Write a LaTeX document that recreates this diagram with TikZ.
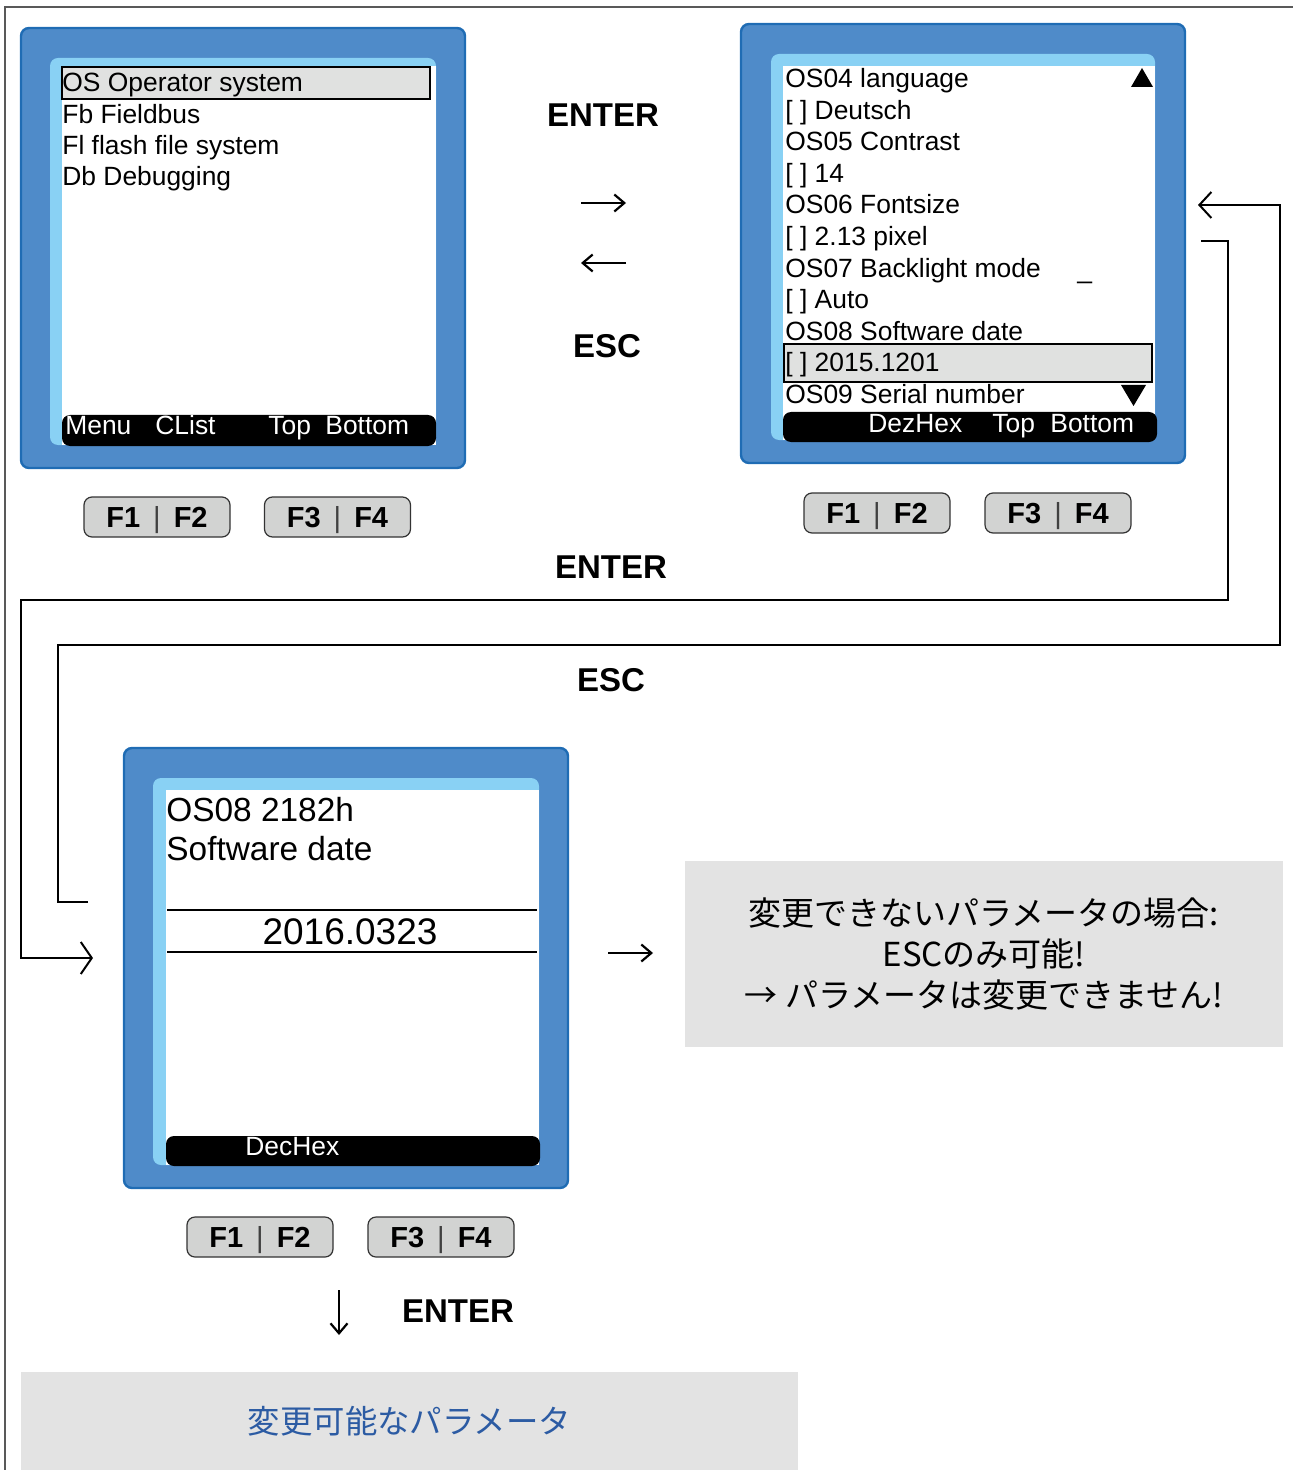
\documentclass[tikz,border=0pt]{standalone}
\usepackage{fontspec}
\setmainfont{Liberation Sans}
\newfontfamily\cjk{Noto Sans CJK JP}
\usetikzlibrary{arrows.meta}
\definecolor{scrblue}{HTML}{4F8BC9}
\definecolor{scredge}{HTML}{1F6CB4}
\definecolor{scrlight}{HTML}{89D1F4}
\definecolor{hlgray}{HTML}{E0E1E0}
\definecolor{btngray}{HTML}{D2D3D2}
\definecolor{boxgray}{HTML}{E3E3E3}
\definecolor{jpblue}{HTML}{2C5BA3}
\begin{document}
\begin{tikzpicture}[x=0.5pt,y=-0.5pt,
  pageline/.style={draw=black!65, line width=0.9pt},
  outer/.style={fill=scrblue, draw=scredge, line width=1.2pt, rounded corners=4pt, inner sep=0pt},
  light/.style={fill=scrlight, rounded corners=4pt},
  scrwhite/.style={fill=white},
  scrbar/.style={fill=black, rounded corners=4pt},
  hl/.style={fill=hlgray, draw=black, line width=1pt},
  scrtxt/.style={anchor=base west, inner sep=0pt, font=\fontsize{13.2}{15}\selectfont},
  bigtxt/.style={anchor=base west, inner sep=0pt, font=\fontsize{16.7}{19}\selectfont},
  bartxt/.style={scrtxt, text=white},
  btn/.style={draw=black!80, fill=btngray, rounded corners=4pt, line width=0.6pt,
    minimum width=73pt, minimum height=20pt, inner sep=0pt, text height=10.5pt, text depth=0pt,
    font=\bfseries\fontsize{14.5}{16}\selectfont},
  keytxt/.style={anchor=base, inner sep=0pt, font=\bfseries\fontsize{16.5}{18}\selectfont},
  conn/.style={line width=1pt},
  bigtip/.style={conn, -{Straight Barb[length=5.5pt,width=16pt]}},
  midtip/.style={conn, -{Straight Barb[length=6pt,width=13pt]}},
  smalltip/.style={line width=1.1pt, -{Straight Barb[length=5pt,width=8.5pt]}},
  graybox/.style={fill=boxgray, inner sep=0pt}
]
\useasboundingbox (0,0) rectangle (1293,1470);
% page border
\draw[pageline] (4,7) -- (1293,7);
\draw[pageline] (5,7) -- (5,1470);

% ---------- Screen A ----------
\node[outer, minimum width=222pt, minimum height=220pt] (scrA) at (243,248) {};
\fill[light] (50,58) rectangle (436,445);
\fill[scrwhite] (62,66) rectangle (436,445);
\draw[hl] (62,67) rectangle (430,99);
\fill[scrbar] (62,415) rectangle (436,446);
\node[scrtxt] (a1) at (62,92) {OS Operator system};
\node[scrtxt] (a2) at (62,123.5) {Fb Fieldbus};
\node[scrtxt] (a3) at (62,155) {Fl flash file system};
\node[scrtxt] (a4) at (62,186) {Db Debugging};
\node[bartxt] (ab1) at (65,435) {Menu};
\node[bartxt] (ab2) at (155,435) {CList};
\node[bartxt] (ab3) at (268,435) {Top};
\node[bartxt] (ab4) at (325,435) {Bottom};
\node[btn] (bA1) at (157,517) {F1\hspace{6.5pt}{\mdseries\color{black!75}|}\hspace{6.5pt}F2};
\node[btn] (bA2) at (337.5,517) {F3\hspace{6.5pt}{\mdseries\color{black!75}|}\hspace{6.5pt}F4};

% ---------- Screen B ----------
\node[outer, minimum width=222pt, minimum height=219.5pt] (scrB) at (963,243.5) {};
\fill[light] (771,54) rectangle (1155,440);
\fill[scrwhite] (783,66) rectangle (1155,440);
\draw[hl] (784,344) rectangle (1152,382);
\fill[scrbar] (783,412) rectangle (1157,442);
\node[scrtxt] (b1) at (785,87.5) {OS04 language};
\node[scrtxt] (b2) at (785,119.1) {[ ] Deutsch};
\node[scrtxt] (b3) at (785,150.7) {OS05 Contrast};
\node[scrtxt] (b4) at (785,182.3) {[ ] 14};
\node[scrtxt] (b5) at (785,213.9) {OS06 Fontsize};
\node[scrtxt] (b6) at (785,245.5) {[ ] 2.13 pixel};
\node[scrtxt] (b7) at (785,277.1) {OS07 Backlight mode};
\node[scrtxt] (b8) at (785,308.7) {[ ] Auto};
\node[scrtxt] (b9) at (785,340.3) {OS08 Software date};
\node[scrtxt] (b10) at (785,371.9) {[ ] 2015.1201};
\node[scrtxt] (b11) at (785,403.5) {OS09 Serial number};
\node[scrtxt] (bu) at (1077,279) {\_};
\fill (1131,87) -- (1153,87) -- (1142,68) -- cycle;
\fill (1121,385) -- (1146,385) -- (1133.5,406) -- cycle;
\node[bartxt] (bb1) at (868,432) {DezHex};
\node[bartxt] (bb2) at (992,432) {Top};
\node[bartxt] (bb3) at (1050,432) {Bottom};
\node[btn] (bB1) at (877,513) {F1\hspace{6.5pt}{\mdseries\color{black!75}|}\hspace{6.5pt}F2};
\node[btn] (bB2) at (1058,513) {F3\hspace{6.5pt}{\mdseries\color{black!75}|}\hspace{6.5pt}F4};

% ---------- Screen C ----------
\node[outer, minimum width=222pt, minimum height=220pt] (scrC) at (346,968) {};
\fill[light] (153,778) rectangle (539,1165);
\fill[scrwhite] (166,790) rectangle (539,1165);
\fill[scrbar] (166,1136) rectangle (540,1166);
\draw[conn] (167,910) -- (537,910);
\draw[conn] (167,952) -- (537,952);
\node[bigtxt] (c1) at (166,821) {OS08 2182h};
\node[bigtxt] (c2) at (166,860) {Software date};
\node[anchor=base, inner sep=0pt, font=\fontsize{18.5}{20}\selectfont] (c3) at (350,944) {2016.0323};
\node[bartxt] (cb1) at (245,1155) {DecHex};
\node[btn] (bC1) at (260,1237) {F1\hspace{6.5pt}{\mdseries\color{black!75}|}\hspace{6.5pt}F2};
\node[btn] (bC2) at (441,1237) {F3\hspace{6.5pt}{\mdseries\color{black!75}|}\hspace{6.5pt}F4};

% ---------- key labels ----------
\node[keytxt] (k1) at (603,127) {ENTER};
\node[keytxt] (k2) at (607,358) {ESC};
\node[keytxt] (k3) at (611,578) {ENTER};
\node[keytxt] (k4) at (611,691) {ESC};
\node[keytxt] (k5) at (458,1322) {ENTER};

% ---------- small arrows ----------
\coordinate (m1a) at (581,203); \coordinate (m1b) at (626,203);
\coordinate (m2a) at (626,263); \coordinate (m2b) at (581,263);
\coordinate (m3a) at (608,953); \coordinate (m3b) at (653,953);
\coordinate (m4a) at (339,1290); \coordinate (m4b) at (339,1335);
\draw[smalltip] (m1a) -- (m1b);
\draw[smalltip] (m2a) -- (m2b);
\draw[smalltip] (m3a) -- (m3b);
\draw[smalltip] (m4a) -- (m4b);

% ---------- long connectors ----------
\coordinate (enS) at (1201,241);
\coordinate (enE) at (93,958);
\draw[bigtip] (enS) -- (1228,241) -- (1228,600) -- (21,600) -- (21,958) -- (enE);
\coordinate (esS) at (88,902);
\coordinate (esE) at (1198,205);
\draw[midtip] (esS) -- (58,902) -- (58,645) -- (1280,645) -- (1280,205) -- (esE);

% ---------- grey boxes ----------
\node[graybox, minimum width=299pt, minimum height=93pt, align=center,
  font=\cjk\fontsize{16.5}{20.5}\selectfont] (jbox) at (984,954)
  {変更できないパラメータの場合:\\ESCのみ可能!\\→ パラメータは変更できません!};
\node[graybox, minimum width=388.5pt, minimum height=49.5pt, text=jpblue,
  font=\cjk\fontsize{16.2}{18}\selectfont] (jbox2) at (409.5,1421.5) {変更可能なパラメータ};
\end{tikzpicture}
\end{document}
